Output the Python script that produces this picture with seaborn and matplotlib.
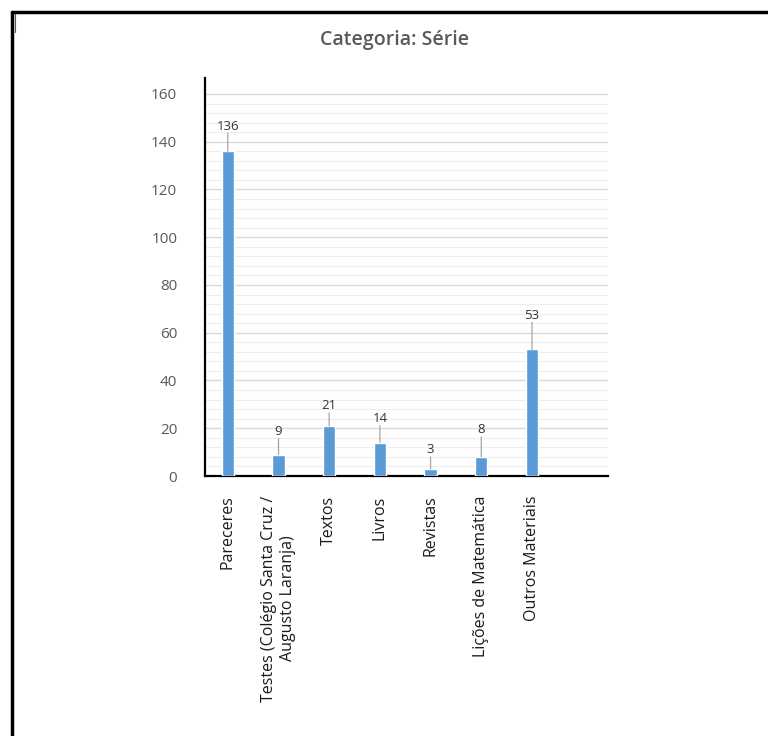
import matplotlib
matplotlib.use("Agg")
import matplotlib.pyplot as plt
import seaborn as sns
import pandas as pd
import numpy as np
from matplotlib.lines import Line2D
from matplotlib.ticker import FixedLocator

categories = ["Pareceres", "Testes (Colégio Santa Cruz /\nAugusto Laranja)", "Textos",
              "Livros", "Revistas", "Lições de Matemática", "Outros Materiais"]
values = [136, 9, 21, 14, 3, 8, 53]
title = "Categoria: Série"

# label offsets above bar tops (pixels) – layout only
label_offsets = [25, 23, 20, 24, 19, 27, 34]

sns.set_theme(style="white")
plt.rcParams['font.family'] = ['Open Sans', 'DejaVu Sans']

df = pd.DataFrame({"cat": categories, "val": values})

fig = plt.figure(figsize=(7.68, 7.36), dpi=100)
ax = fig.add_axes([205/768, 1-476/736, (608-205)/768, (476-78)/736])

sns.barplot(data=df, x="cat", y="val", color="#5B9BD5", saturation=1, width=0.24, ax=ax, zorder=3)

ax.set_xlim(-0.45, 7.5)
ax.set_ylim(0, 166.7)
ax.set_yticks(np.arange(0, 161, 20))
ax.yaxis.set_minor_locator(FixedLocator(np.arange(0, 161, 4)))
ax.grid(which="major", axis="y", color="#d9d9d9", lw=1, zorder=0)
ax.grid(which="minor", axis="y", color="#ededed", lw=0.8, zorder=0)
ax.set_axisbelow(True)

for s in ["top", "right"]:
    ax.spines[s].set_visible(False)
ax.spines["left"].set_color("black")
ax.spines["left"].set_linewidth(1.6)
ax.spines["bottom"].set_color("black")
ax.spines["bottom"].set_linewidth(1.6)

ax.set_xlabel("")
ax.set_ylabel("")
ax.tick_params(axis="y", which="both", length=0, pad=20, labelsize=11, labelcolor="#595959")
ax.tick_params(axis="x", length=0, pad=14, labelsize=11.5, labelcolor="#1a1a1a")
ax.set_xticks(range(len(categories)))
ax.set_xticklabels(categories, rotation=90, va="top", ha="center", linespacing=1.3)

# data labels with leader lines
px = 72 / 100
for i, (v, off) in enumerate(zip(values, label_offsets)):
    ax.annotate(str(v), xy=(i, v), xytext=(0, off * px), textcoords="offset points",
                ha="center", va="center", fontsize=9.5, color="#333333", zorder=5)
    ax.annotate("", xy=(i, v), xytext=(0, (off - 7) * px), textcoords="offset points",
                arrowprops=dict(arrowstyle="-", color="#a6a6a6", lw=0.9, shrinkA=0, shrinkB=0))

fig.text(395/768, 1-40/736, title, ha="center", va="center", fontsize=14,
         fontweight="semibold", color="#595959")

# outer frame
fig.add_artist(Line2D([12/768, 1], [1-12/736, 1-12/736], color="black", lw=2.5, transform=fig.transFigure))
fig.add_artist(Line2D([12/768, 12/768], [0, 1-12/736], color="black", lw=2.5, transform=fig.transFigure))
fig.add_artist(Line2D([15/768, 15/768], [1-32/736, 1-14/736], color="#555555", lw=0.8, transform=fig.transFigure))

fig.savefig("out.png", dpi=100, facecolor="white")
